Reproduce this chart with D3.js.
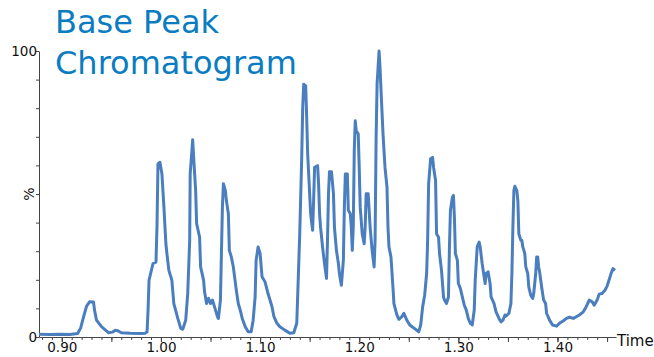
<!DOCTYPE html>
<html>
<head>
<meta charset="utf-8">
<script src="https://cdn.jsdelivr.net/npm/d3@7/dist/d3.min.js"></script>
<style>
  html, body { margin: 0; padding: 0; background: #fff; }
  svg { display: block; }
  text { font-family: "DejaVu Sans", Verdana, sans-serif; }
</style>
</head>
<body>
<svg id="chart" width="654" height="357"></svg>
<script>
// Retention time (min) of each sample point in the trace
const times = [
  0.877, 0.888, 0.898, 0.908, 0.916, 0.919, 0.922, 0.925, 0.928, 0.932, 0.933, 0.935, 0.940, 0.947, 0.951, 0.954, 0.957, 0.960, 0.969, 0.979, 0.984,
  0.986, 0.987, 0.988, 0.992, 0.995, 0.996, 0.997, 0.999, 1.001, 1.003, 1.005, 1.006, 1.008, 1.011, 1.013, 1.017, 1.020, 1.022, 1.025, 1.027, 1.029, 1.0295,
  1.031, 1.032, 1.033, 1.035, 1.036, 1.039, 1.040, 1.043, 1.044, 1.046, 1.048, 1.050, 1.052, 1.054, 1.057, 1.058, 1.060, 1.061, 1.062, 1.063, 1.065, 1.066,
  1.068, 1.069, 1.071, 1.073, 1.076, 1.078, 1.080,
  1.082, 1.085, 1.088, 1.091, 1.093, 1.095, 1.096, 1.098, 1.100, 1.102, 1.105, 1.108, 1.112, 1.114, 1.117, 1.120, 1.125, 1.130, 1.134, 1.137, 1.138, 1.140,
  1.142, 1.143, 1.144, 1.146, 1.147, 1.148, 1.150, 1.151, 1.153, 1.154, 1.155, 1.158, 1.159, 1.160, 1.161, 1.163, 1.165, 1.167, 1.168, 1.169, 1.170, 1.172,
  1.174, 1.175, 1.177, 1.179, 1.180,
  1.182, 1.184, 1.185, 1.186, 1.188, 1.189, 1.191, 1.192, 1.193, 1.194, 1.195, 1.196, 1.197, 1.199, 1.200, 1.201, 1.203, 1.205, 1.206, 1.207, 1.209, 1.210,
  1.211, 1.213, 1.215, 1.216, 1.217, 1.218, 1.220, 1.221, 1.222, 1.224, 1.226, 1.228, 1.229, 1.230, 1.232, 1.234, 1.235, 1.238, 1.240, 1.243, 1.245, 1.248,
  1.251, 1.254, 1.258, 1.260, 1.262, 1.264, 1.266, 1.268, 1.269, 1.270, 1.272, 1.274, 1.275, 1.277, 1.278, 1.280, 1.281,
  1.283, 1.285, 1.286, 1.288, 1.290, 1.291, 1.292, 1.294, 1.295, 1.296, 1.297, 1.299, 1.300, 1.302, 1.304, 1.306, 1.308, 1.310, 1.312, 1.314, 1.316, 1.317,
  1.319, 1.321, 1.322, 1.324, 1.325, 1.327, 1.328, 1.330, 1.332, 1.333, 1.336, 1.338, 1.341, 1.343, 1.345, 1.347, 1.348, 1.351, 1.353, 1.354, 1.355, 1.356,
  1.357, 1.359, 1.360, 1.361, 1.363, 1.364, 1.365, 1.367, 1.368, 1.370, 1.371, 1.373, 1.375, 1.376, 1.378, 1.379, 1.380, 1.381, 1.382,
  1.384, 1.386, 1.388, 1.389, 1.392, 1.395, 1.399, 1.402, 1.406, 1.409, 1.412, 1.416, 1.419, 1.422, 1.426, 1.429, 1.432, 1.435, 1.437, 1.440, 1.442, 1.445,
  1.448, 1.450, 1.452, 1.454, 1.456, 1.458
];

// Relative abundance (%) of the base peak at each time
const intensity = [
  1.0, 0.9, 1.0, 0.9, 1.2, 3.1, 7.1, 10.8, 12.3, 12.2, 9.4, 5.9, 3.6, 1.5, 1.7, 2.4, 2.1, 1.5, 1.3, 1.2, 1.3,
  1.8, 9.4, 19.9, 25.7, 26.2, 38.4, 60.5, 61.1, 57.0, 45.4, 32.6, 29.2, 23.3, 19.9, 11.7, 6.5, 3.0, 2.7, 5.9, 15.2, 33.8, 57.0,
  64.0, 69.0, 62.8, 51.2, 39.6, 34.9, 24.5, 19.9, 15.8, 11.7, 13.5, 11.7, 12.9, 10.6, 7.1, 6.5, 12.9, 29.2, 45.4, 53.6, 51.2, 47.7,
  43.1, 30.3, 28.0, 24.5, 16.4, 11.7, 9.4,
  6.5, 3.6, 1.8, 1.8, 5.9, 14.0, 26.8, 31.5, 29.2, 21.0, 19.3, 15.2, 10.6, 7.1, 4.8, 3.6, 2.4, 1.3, 1.5, 4.8, 15.2, 36.1,
  62.8, 80.2, 88.4, 87.8, 76.8, 64.0, 50.1, 43.1, 37.3, 47.7, 59.3, 59.9, 53.6, 43.1, 38.4, 31.5, 25.7, 20.5, 33.8, 50.1, 57.8, 57.8,
  50.1, 38.4, 30.3, 25.7, 22.2,
  18.1, 26.8, 45.4, 57.0, 57.0, 44.3, 43.1, 38.4, 30.3, 38.4, 65.2, 75.6, 72.1, 71.0, 59.3, 45.4, 36.1, 32.6, 38.4, 50.1, 50.1, 44.3,
  38.4, 30.3, 24.5, 33.8, 68.6, 88.4, 100.0, 94.2, 86.1, 71.0, 59.3, 52.4, 38.4, 31.5, 28.0, 17.5, 11.7, 7.7, 6.2, 7.1, 8.3, 5.9,
  4.2, 3.4, 2.4, 1.8, 4.2, 10.6, 14.6, 22.2, 33.8, 53.6, 62.3, 62.8, 59.3, 54.7, 36.1, 34.9, 29.2,
  23.3, 14.0, 12.9, 11.7, 14.0, 31.5, 44.3, 48.9, 49.5, 41.9, 29.2, 26.8, 18.7, 17.0, 14.0, 11.1, 9.4, 6.5, 4.8, 4.2, 9.4, 19.9,
  31.5, 33.2, 31.5, 25.7, 23.3, 18.7, 22.2, 22.8, 18.7, 14.0, 11.7, 8.8, 6.5, 5.3, 5.9, 7.7, 7.3, 8.3, 11.7, 22.2, 38.4, 51.2,
  52.7, 51.2, 47.7, 36.1, 33.8, 33.8, 31.5, 29.2, 24.5, 22.2, 17.5, 14.6, 13.5, 15.2, 22.2, 28.0, 28.0, 24.5, 22.6,
  17.5, 12.9, 11.7, 8.3, 5.9, 4.2, 3.8, 4.8, 5.7, 6.5, 6.9, 6.5, 7.1, 7.7, 8.8, 10.6, 12.9, 12.3, 11.1, 12.9, 15.0, 15.2,
  16.4, 17.8, 19.9, 22.2, 23.9, 23.3
];

// Axis tick positions and labels
const xTickLabels = ["0.90", "1.00", "1.10", "1.20", "1.30", "1.40"];
const yTickLabels = ["0", "100"];
const titleLines = ["Base Peak", "Chromatogram"];

const svg = d3.select("#chart");

const x = d3.scaleLinear().domain([0.877, 1.459]).range([39, 616]);
const y = d3.scaleLinear().domain([0, 100]).range([337, 51]);

const axisColor = "#444";

// X axis: minor ticks every 0.01, longer ones every 0.05
const minorTicks = d3.range(88, 146).map(d => d / 100);
const midTicks = d3.range(18, 30).map(d => d * 5 / 100);
const majorTicks = xTickLabels.map(Number);

const xg = svg.append("g").attr("transform", `translate(0,${y(0)})`);
xg.append("g")
  .call(d3.axisBottom(x).tickValues(minorTicks).tickSize(3).tickSizeOuter(0).tickFormat(""))
  .call(g => g.select(".domain").attr("stroke", axisColor))
  .call(g => g.selectAll(".tick line").attr("stroke", axisColor));
xg.append("g")
  .call(d3.axisBottom(x).tickValues(midTicks).tickSize(5).tickSizeOuter(0).tickFormat(""))
  .call(g => g.select(".domain").remove())
  .call(g => g.selectAll(".tick line").attr("stroke", axisColor));
xg.append("g")
  .call(d3.axisBottom(x).tickValues(majorTicks).tickSize(5).tickSizeOuter(0)
    .tickFormat((d, i) => xTickLabels[i]))
  .call(g => g.select(".domain").remove())
  .call(g => g.selectAll(".tick line").attr("stroke", axisColor))
  .call(g => g.selectAll(".tick text")
    .attr("font-family", "DejaVu Sans, Verdana, sans-serif")
    .attr("font-size", 13.5).attr("fill", "#111").attr("dy", "0.5em"));

svg.append("text")
  .attr("x", 617).attr("y", y(0) + 9)
  .attr("font-size", 15).attr("fill", "#111")
  .text("Time");

// Y axis: small ticks every 10 %, labels only at the ends
const yg = svg.append("g").attr("transform", `translate(${x(0.877)},0)`);
yg.call(d3.axisLeft(y).tickValues(d3.range(0, 101, 10)).tickSize(3).tickSizeOuter(0).tickFormat(""))
  .call(g => g.select(".domain").attr("stroke", axisColor))
  .call(g => g.selectAll(".tick line").attr("stroke", axisColor));

yg.selectAll("text.ylab")
  .data(yTickLabels)
  .join("text")
  .attr("class", "ylab")
  .attr("x", -2)
  .attr("y", d => y(+d) + 5)
  .attr("text-anchor", "end")
  .attr("font-size", 13.5)
  .attr("fill", "#111")
  .text(d => d);

svg.append("text")
  .attr("transform", `translate(34,${y(50)}) rotate(-90)`)
  .attr("text-anchor", "middle")
  .attr("font-size", 14)
  .attr("fill", "#111")
  .text("%");

// Chromatogram trace
const points = times.map((t, i) => [t, intensity[i]]);
svg.append("path")
  .datum(points)
  .attr("fill", "none")
  .attr("stroke", "#4a7ebf")
  .attr("stroke-width", 3)
  .attr("stroke-linejoin", "round")
  .attr("d", d3.line().x(d => x(d[0])).y(d => y(d[1])));

// Title
svg.selectAll("text.title")
  .data(titleLines)
  .join("text")
  .attr("class", "title")
  .attr("x", 55)
  .attr("y", (d, i) => 33 + i * 41)
  .attr("font-size", 32)
  .attr("fill", "#0a7cc1")
  .text(d => d);
</script>
</body>
</html>
